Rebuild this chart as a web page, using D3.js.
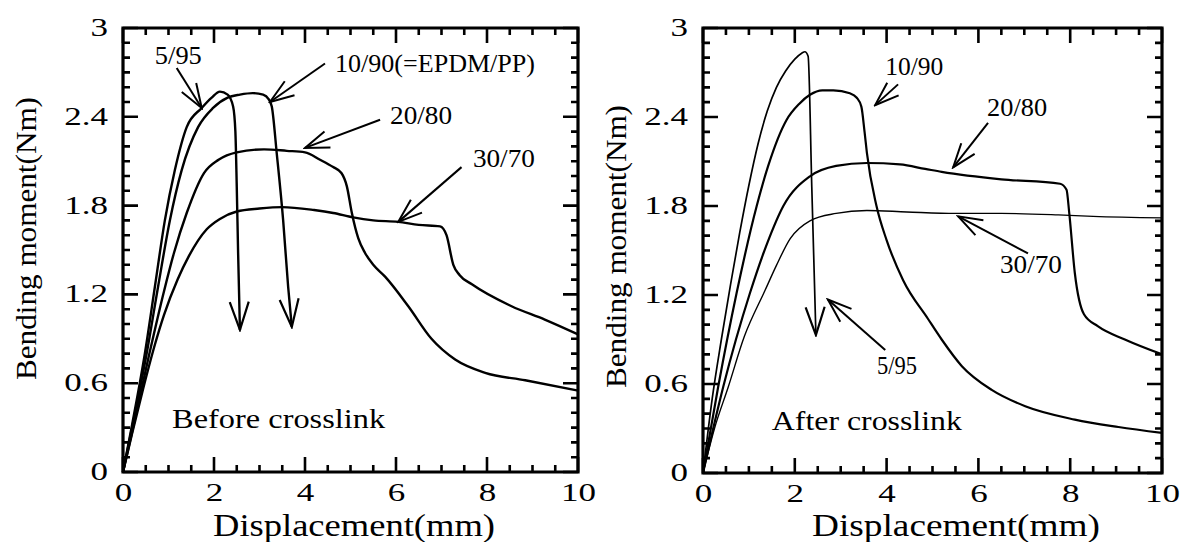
<!DOCTYPE html>
<html>
<head>
<meta charset="utf-8">
<script src="https://cdn.jsdelivr.net/npm/d3@7"></script>
<style>
body { margin: 0; background: #fff; }
svg { display: block; }
text { font-family: "Liberation Serif", "Times New Roman", serif; fill: #000; }
</style>
</head>
<body>
<svg></svg>
<script>
var width = 1181,
    height = 542;

// displacement (mm), bending moment (Nm)
var before_5_95 = [[0,0],[0.2,0.32],[0.48,0.8],[0.7,1.25],[0.92,1.7],[1.14,2.04],[1.4,2.33],[1.73,2.46],[1.95,2.53],[2.13,2.57],[2.3,2.55],[2.42,2.47],[2.47,2.3],[2.5,1.93],[2.53,1.48],[2.57,0.96]];
var before_10_90 = [[0,0],[0.2,0.3],[0.52,0.8],[0.77,1.25],[1.03,1.7],[1.29,2.04],[1.65,2.33],[1.98,2.46],[2.3,2.53],[2.57,2.55],[2.85,2.56],[3.08,2.55],[3.2,2.52],[3.27,2.47],[3.38,2.15],[3.52,1.7],[3.63,1.25],[3.71,0.98]];
var before_20_80 = [[0,0],[0.2,0.27],[0.58,0.8],[0.9,1.22],[1.12,1.48],[1.4,1.75],[1.78,2.02],[2.1,2.11],[2.5,2.16],[3.1,2.18],[3.6,2.17],[4.0,2.16],[4.33,2.11],[4.62,2.06],[4.8,2.02],[4.92,1.93],[5.03,1.75],[5.17,1.58],[5.32,1.48],[5.5,1.4],[5.76,1.32],[6.27,1.12],[6.78,0.9],[7.3,0.76],[7.96,0.67],[8.84,0.62],[10,0.55]];
var before_30_70 = [[0,0],[0.2,0.26],[0.44,0.56],[0.7,0.86],[0.9,1.06],[1.2,1.3],[1.45,1.46],[1.84,1.64],[2.13,1.71],[2.5,1.76],[3.0,1.78],[3.5,1.79],[4.2,1.77],[4.62,1.75],[5.06,1.72],[5.5,1.7],[6.05,1.69],[6.5,1.67],[6.97,1.66],[7.11,1.6],[7.26,1.4],[7.4,1.33],[7.66,1.27],[8.54,1.12],[9.27,1.03],[10,0.93]];

var after_5_95 = [[0,0],[0.2,0.5],[0.4,0.9],[0.6,1.27],[0.8,1.62],[1.0,1.94],[1.2,2.22],[1.4,2.44],[1.6,2.6],[1.8,2.71],[2.0,2.79],[2.15,2.83],[2.22,2.84],[2.29,2.81],[2.37,1.93],[2.46,0.93]];
var after_10_90 = [[0,0],[0.33,0.58],[0.73,1.21],[1.17,1.8],[1.42,2.07],[1.82,2.38],[2.1,2.49],[2.33,2.55],[2.6,2.58],[2.84,2.58],[3.2,2.56],[3.35,2.53],[3.45,2.47],[3.52,2.3],[3.57,2.16],[3.78,1.8],[4.0,1.57],[4.36,1.3],[4.9,1.04],[5.2,0.9],[5.64,0.72],[6.29,0.56],[7.02,0.45],[8.1,0.36],[9.05,0.31],[10,0.27]];
var after_20_80 = [[0,0],[0.44,0.58],[1.02,1.21],[1.4,1.55],[1.75,1.8],[2.33,2.0],[2.9,2.07],[3.57,2.09],[4.29,2.08],[4.84,2.05],[5.2,2.03],[6.5,1.98],[7.78,1.95],[7.92,1.91],[7.98,1.75],[8.1,1.35],[8.3,1.07],[8.6,0.99],[9.19,0.9],[10,0.8]];
var after_30_70 = [[0,0],[0.25,0.3],[0.55,0.58],[0.9,0.92],[1.35,1.23],[1.6,1.4],[1.9,1.58],[2.33,1.7],[2.9,1.75],[3.57,1.77],[4.44,1.76],[5.5,1.75],[6.5,1.75],[7.74,1.74],[8.5,1.73],[10,1.72]];

var xTicks = [0, 2, 4, 6, 8, 10];
var yTicks = [0, 0.6, 1.2, 1.8, 2.4, 3];
var yTickLabels = ["0", "0.6", "1.2", "1.8", "2.4", "3"];
var xMinor = [0, 0.5, 1, 1.5, 2, 2.5, 3, 3.5, 4, 4.5, 5, 5.5, 6, 6.5, 7, 7.5, 8, 8.5, 9, 9.5, 10];
var yMinor = [0, 0.1, 0.2, 0.3, 0.4, 0.5, 0.6, 0.7, 0.8, 0.9, 1, 1.1, 1.2, 1.3, 1.4, 1.5, 1.6, 1.7, 1.8, 1.9, 2, 2.1, 2.2, 2.3, 2.4, 2.5, 2.6, 2.7, 2.8, 2.9, 3];

// label text, text anchor point and arrow (from -> to), all in data units
var beforeNotes = [
    {label: "5/95", at: [0.70, 2.76], from: [1.18, 2.73], to: [1.73, 2.46], len: 47},
    {label: "10/90(=EPDM/PP)", at: [4.66, 2.70], from: [4.44, 2.76], to: [3.23, 2.50], len: 200},
    {label: "20/80", at: [5.87, 2.35], from: [5.65, 2.38], to: [4.0, 2.19], len: 62},
    {label: "30/70", at: [7.69, 2.06], from: [7.44, 2.06], to: [6.05, 1.69], len: 62}
];
var afterNotes = [
    {label: "10/90", at: [3.97, 2.68], from: [4.25, 2.62], to: [3.75, 2.48], len: 58},
    {label: "20/80", at: [6.19, 2.41], from: [6.21, 2.36], to: [5.45, 2.06], len: 60},
    {label: "30/70", at: [6.47, 1.35], from: [7.08, 1.48], to: [5.56, 1.73], len: 62},
    {label: "5/95", at: [3.79, 0.67], from: [3.97, 0.83], to: [2.72, 1.17], len: 40}
];

var panels = [
    {left: 123, right: 578, top: 28, bottom: 472,
     series: [before_5_95, before_10_90, before_20_80, before_30_70],
     widths: [2.4, 2.4, 2.4, 2.4], failed: [true, true, false, false],
     notes: beforeNotes,
     caption: "Before crosslink", captionAt: [1.08, 0.30], captionLen: 213,
     xTitleX: 213, xTitleLen: 282, yTitleX: 36, yTitleY: 380},
    {left: 703, right: 1162, top: 28, bottom: 473,
     series: [after_5_95, after_10_90, after_20_80, after_30_70],
     widths: [1.7, 2.2, 2.2, 1.4], failed: [true, false, false, false],
     notes: afterNotes,
     caption: "After crosslink", captionAt: [1.50, 0.29], captionLen: 190,
     xTitleX: 812, xTitleLen: 288, yTitleX: 626, yTitleY: 388}
];

var svg = d3.select("svg")
    .attr("width", width)
    .attr("height", height);

var defs = svg.append("defs");
defs.append("marker")
    .attr("id", "bighead")
    .attr("markerUnits", "userSpaceOnUse")
    .attr("viewBox", "-2 -12 32 24")
    .attr("markerWidth", 32).attr("markerHeight", 24)
    .attr("refX", 28).attr("refY", 0)
    .attr("orient", "auto")
    .append("path")
    .attr("d", "M0,-9.5L28,0L0,9.5")
    .attr("fill", "none").attr("stroke", "#000").attr("stroke-width", 2.2);
defs.append("marker")
    .attr("id", "head")
    .attr("markerUnits", "userSpaceOnUse")
    .attr("viewBox", "-2 -11 28 22")
    .attr("markerWidth", 28).attr("markerHeight", 22)
    .attr("refX", 24).attr("refY", 0)
    .attr("orient", "auto")
    .append("path")
    .attr("d", "M0,-8.5L24,0L0,8.5")
    .attr("fill", "none").attr("stroke", "#000").attr("stroke-width", 2);

function stretch(sel, k) {
    sel.each(function () {
        var len = this.getComputedTextLength();
        d3.select(this).attr("textLength", len * k).attr("lengthAdjust", "spacingAndGlyphs");
    });
}

function isMajor(list, v) {
    return list.some(t => Math.abs(t - v) < 1e-6);
}

panels.forEach(function (p) {
    var x = d3.scaleLinear().domain([0, 10]).range([p.left, p.right]);
    var y = d3.scaleLinear().domain([0, 3]).range([p.bottom, p.top]);
    var g = svg.append("g");

    // frame and inward ticks on all four sides, built as one path from the scales
    var frame = d3.path();
    frame.rect(p.left, p.top, p.right - p.left, p.bottom - p.top);
    var ticks = d3.path();
    xMinor.forEach(function (v) {
        var len = isMajor(xTicks, v) ? 15 : 7;
        ticks.moveTo(x(v), p.bottom); ticks.lineTo(x(v), p.bottom - len);
        ticks.moveTo(x(v), p.top); ticks.lineTo(x(v), p.top + len);
    });
    yMinor.forEach(function (v) {
        var len = isMajor(yTicks, v) ? 15 : 7;
        ticks.moveTo(p.left, y(v)); ticks.lineTo(p.left + len, y(v));
        ticks.moveTo(p.right, y(v)); ticks.lineTo(p.right - len, y(v));
    });
    g.append("path")
        .attr("d", ticks.toString())
        .attr("fill", "none")
        .attr("stroke", "#000")
        .attr("stroke-width", 2.6)
        .attr("stroke-linecap", "butt");
    g.append("path")
        .attr("d", frame.toString())
        .attr("fill", "none")
        .attr("stroke", "#000")
        .attr("stroke-width", 3.2);

    // tick labels
    var xl = g.append("g").attr("transform", "translate(0," + p.bottom + ")")
        .call(d3.axisBottom(x).tickValues(xTicks).tickSize(0).tickPadding(11).tickFormat(d3.format("d")));
    var yl = g.append("g").attr("transform", "translate(" + (p.left - 1) + ",0)")
        .call(d3.axisLeft(y).tickValues(yTicks).tickSize(0).tickPadding(14)
            .tickFormat((d, i) => yTickLabels[i]));
    [xl, yl].forEach(function (a) {
        a.attr("font-family", null).attr("font-size", 25);
        a.select(".domain").remove();
        a.selectAll(".tick line").remove();
        a.selectAll("text").attr("fill", "#000");
        stretch(a.selectAll("text"), 1.4);
    });
    yl.selectAll("text").attr("dy", "0.3em");

    var line = d3.line()
        .x(d => x(d[0]))
        .y(d => y(d[1]))
        .curve(d3.curveMonotoneX);

    g.selectAll("path.curve")
        .data(p.series)
        .enter().append("path")
        .attr("class", "curve")
        .attr("d", line)
        .attr("fill", "none")
        .attr("stroke", "#000")
        .attr("stroke-width", (d, i) => p.widths[i])
        .attr("stroke-linejoin", "round")
        .attr("marker-end", (d, i) => p.failed[i] ? "url(#bighead)" : null);

    // labels with arrows
    var notes = g.selectAll("g.note")
        .data(p.notes)
        .enter().append("g").attr("class", "note");
    notes.append("line")
        .attr("x1", d => x(d.from[0])).attr("y1", d => y(d.from[1]))
        .attr("x2", d => x(d.to[0])).attr("y2", d => y(d.to[1]))
        .attr("stroke", "#000").attr("stroke-width", 2)
        .attr("marker-end", "url(#head)");
    notes.append("text")
        .attr("x", d => x(d.at[0])).attr("y", d => y(d.at[1]))
        .attr("font-size", 26)
        .attr("textLength", d => d.len)
        .attr("lengthAdjust", "spacingAndGlyphs")
        .text(d => d.label);

    g.append("text")
        .attr("x", x(p.captionAt[0])).attr("y", y(p.captionAt[1]))
        .attr("font-size", 27)
        .attr("textLength", p.captionLen)
        .attr("lengthAdjust", "spacingAndGlyphs")
        .text(p.caption);

    // axis titles
    g.append("text")
        .attr("x", p.xTitleX).attr("y", 536)
        .attr("font-size", 31)
        .attr("textLength", p.xTitleLen)
        .attr("lengthAdjust", "spacingAndGlyphs")
        .text("Displacement(mm)");
    g.append("text")
        .attr("transform", "translate(" + p.yTitleX + "," + p.yTitleY + ") rotate(-90)")
        .attr("font-size", 30)
        .attr("textLength", 283)
        .attr("lengthAdjust", "spacingAndGlyphs")
        .text("Bending moment(Nm)");
});
</script>
</body>
</html>
